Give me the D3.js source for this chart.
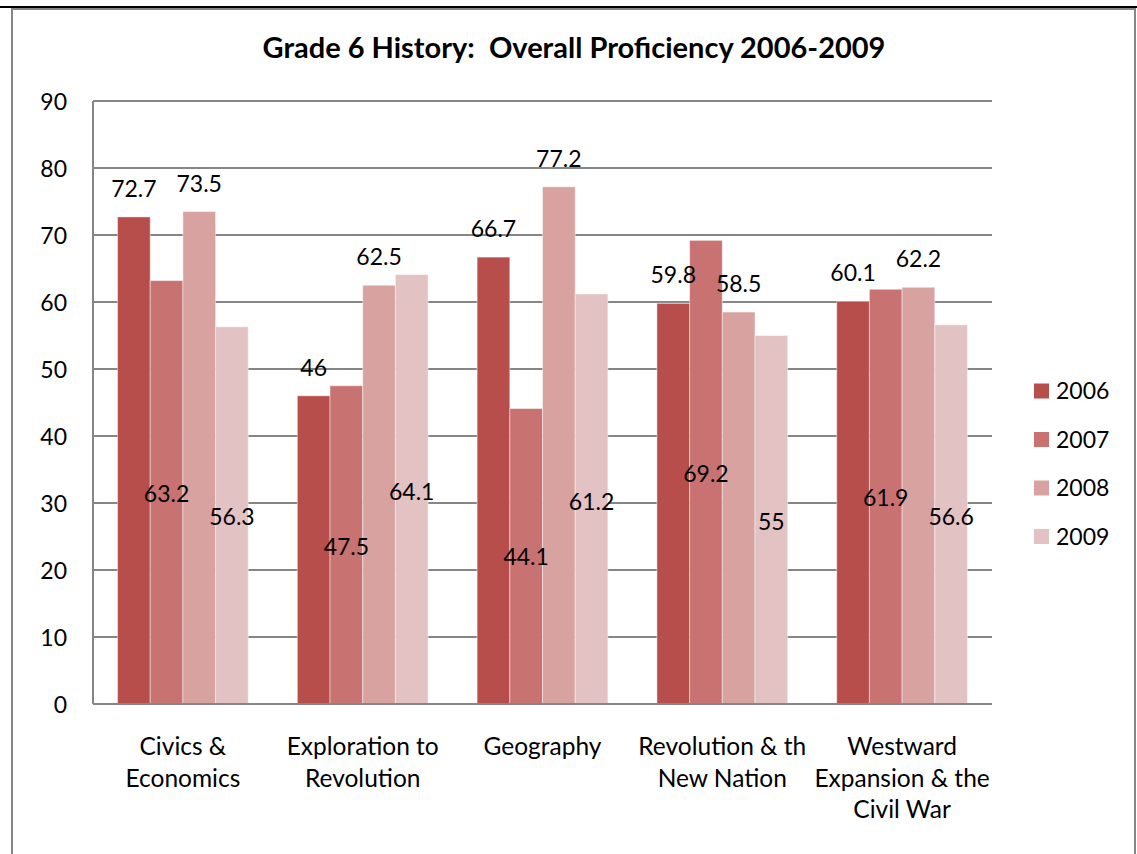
<!DOCTYPE html>
<html><head><meta charset="utf-8">
<script src="https://cdn.jsdelivr.net/npm/d3@7/dist/d3.min.js"></script>
<style>body{margin:0;background:#fff}svg{display:block}text{font-family:Lato,"Open Sans",sans-serif;fill:#000}</style>
</head><body><svg id="c" width="1137" height="854"></svg>
<script>
const title = "Grade 6 History:  Overall Proficiency 2006-2009";
const categories = [["Civics &","Economics"],["Exploration to","Revolution"],["Geography"],["Revolution & th","New Nation"],["Westward","Expansion & the","Civil War"]];
const years = ["2006","2007","2008","2009"];
const v2006 = [72.7, 46, 66.7, 59.8, 60.1];
const v2007 = [63.2, 47.5, 44.1, 69.2, 61.9];
const v2008 = [73.5, 62.5, 77.2, 58.5, 62.2];
const v2009 = [56.3, 64.1, 61.2, 55, 56.6];
// label anchor (data units) for labels moved inside the plot; null = outside end
const lab2007 = [31.3, 23.4, 21.9, 34.3, 30.7];
const lab2009 = [27.9, 31.6, 30.1, 27.2, 27.9];
const yTicks = [0,10,20,30,40,50,60,70,80,90];
const colors = ["#B84E4B","#C87371","#D8A2A1","#E3C2C4"];

const series = [v2006, v2007, v2008, v2009];
const labels = [null, lab2007, null, lab2009];
const svg = d3.select("#c");
const L=93, R=992, T=101, B=704;

// outer frame
svg.append("line").attr("x1",0).attr("x2",1137).attr("y1",7).attr("y2",7).attr("stroke","#000").attr("stroke-width",2);
svg.append("rect").attr("x",12).attr("y",9).attr("width",1123).attr("height",860).attr("fill","none").attr("stroke","#868686").attr("stroke-width",2);

const x0 = d3.scaleBand().domain(d3.range(categories.length)).range([L,R]).paddingInner(0).paddingOuter(0);
const bw = x0.bandwidth()/5.5;
const y = d3.scaleLinear().domain([0,90]).range([B,T]);

// gridlines
svg.append("g").selectAll("line").data(yTicks).join("line")
  .attr("x1",L).attr("x2",R).attr("y1",d=>y(d)).attr("y2",d=>y(d))
  .attr("stroke","#868686").attr("stroke-width",2);
svg.append("line").attr("x1",L).attr("x2",L).attr("y1",T).attr("y2",B).attr("stroke","#868686").attr("stroke-width",2);

// y tick labels
const yAxis = d3.axisLeft(y).tickValues(yTicks).tickSize(0).tickPadding(26);
const ya = svg.append("g").attr("transform",`translate(${L},0)`).call(yAxis);
ya.select(".domain").remove();
ya.attr("font-family",null).attr("font-size",null);
ya.selectAll("text").style("font-size","23px").style("font-family","Lato").attr("fill","#000").attr("dy","0.35em");

// bars
series.forEach((vals,si)=>{
  svg.append("g").selectAll("rect").data(vals).join("rect")
    .attr("x",(d,i)=>x0(i)+0.75*bw+si*bw)
    .attr("y",d=>y(d))
    .attr("width",bw)
    .attr("height",d=>y(0)-y(d))
    .attr("fill",colors[si])
    .attr("stroke","rgba(255,255,255,0.45)").attr("stroke-width",1);
});
svg.append("line").attr("x1",L).attr("x2",R).attr("y1",B).attr("y2",B).attr("stroke","#868686").attr("stroke-width",2);

// value labels
series.forEach((vals,si)=>{
  svg.append("g").selectAll("text").data(vals).join("text")
    .attr("x",(d,i)=>x0(i)+0.75*bw+si*bw+bw/2)
    .attr("y",(d,i)=> labels[si] ? y(labels[si][i]) + 8 : y(d) - 20)
    .attr("text-anchor","middle").style("font-size","23px")
    .text(d=>d);
});

// category labels
categories.forEach((lines,i)=>{
  const cx = x0(i)+x0.bandwidth()/2;
  const t = svg.append("text").attr("x",cx).attr("y",755)
    .attr("text-anchor","middle").style("font-size","24.5px");
  lines.forEach((ln,k)=>t.append("tspan").attr("x",cx).attr("dy",k?31.5:0).text(ln));
});

// title
svg.append("text").attr("x",574).attr("y",58).attr("text-anchor","middle")
  .style("font-size","29px").style("font-weight","bold").style("white-space","pre").text(title);

// legend
const lg = svg.append("g").selectAll("g").data(years).join("g")
  .attr("transform",(d,i)=>`translate(1034,${391+i*48.5})`);
lg.append("rect").attr("x",0).attr("y",-7.5).attr("width",15).attr("height",15).attr("fill",(d,i)=>colors[i]);
lg.append("text").attr("x",22).attr("y",8).style("font-size","23px").text(d=>d);
</script></body></html>
